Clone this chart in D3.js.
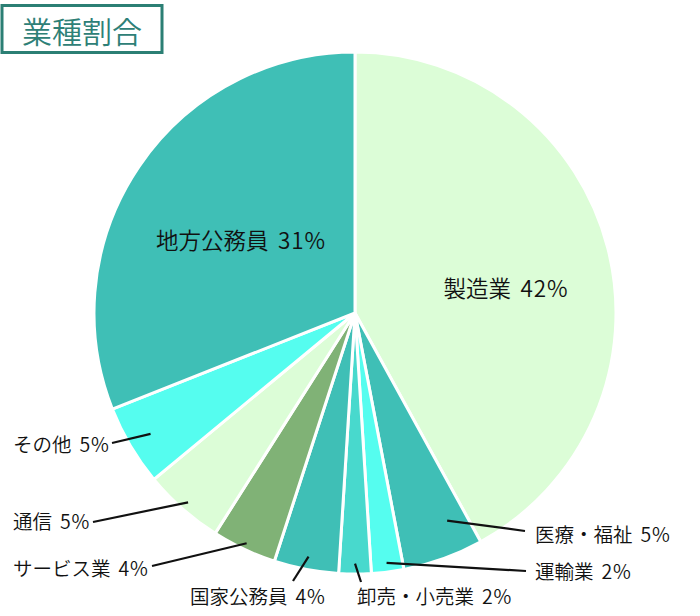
<!DOCTYPE html>
<html><head><meta charset="utf-8">
<script src="https://cdn.jsdelivr.net/npm/d3@7"></script>
<style>
body{margin:0;background:#fff;}
svg{display:block;font-family:"Noto Sans CJK JP","Noto Sans",sans-serif;}
</style></head>
<body>
<script>
const title = "業種割合";
const categories = ["製造業","医療・福祉","運輸業","卸売・小売業","国家公務員","サービス業","通信","その他","地方公務員"];
const values = [42,5,2,2,4,4,5,5,31];
const colors = ["#dcfdd7","#3fbfb6","#55fdef","#48d9cd","#3fbfb6","#80b276","#dcfdd7","#55fdef","#3fbfb6"];
// label layout: inside labels (center) or outside labels (start anchor) with leader lines
const labelPos = [
  {inside:true, x:506, y:287},
  {x:535, y:533, lx:525, ly:531, r:0.87, t:0.27},
  {x:535, y:570, lx:526, ly:571, r:0.965, t:0.5},
  {x:357, y:595, lx:361, ly:582, r:0.96, t:0.5},
  {x:190, y:595, lx:293, ly:581, r:0.95, t:0.5},
  {x:13, y:567, lx:152, ly:566, r:0.975, t:0.5},
  {x:13, y:520, lx:93, ly:522, r:0.967, t:0.5},
  {x:13, y:443, lx:112, ly:443, r:0.91, t:0.5},
  {inside:true, x:241, y:239}
];

const W=700,H=616,cx=355,cy=313,R=261;
const svg=d3.select("body").append("svg").attr("width",W).attr("height",H);

// title
svg.append("rect").attr("x",2).attr("y",5.5).attr("width",160).attr("height",47)
  .attr("fill","#fff").attr("stroke","#2b7f74").attr("stroke-width",3);
svg.append("text").attr("x",82).attr("y",30).attr("text-anchor","middle")
  .attr("dominant-baseline","central").attr("font-size",30).attr("font-weight",350)
  .attr("fill","#2e8077").text(title);

const pie=d3.pie().sort(null).value(d=>d)(values);
const arc=d3.arc().innerRadius(0).outerRadius(R);
const g=svg.append("g").attr("transform",`translate(${cx},${cy})`);
g.selectAll("path").data(pie).join("path")
  .attr("d",arc).attr("fill",(d,i)=>colors[i])
  .attr("stroke","#fff").attr("stroke-width",3).attr("stroke-linejoin","miter");

// leader lines
pie.forEach((d,i)=>{
  const p=labelPos[i];
  if(p.inside) return;
  const a=d.startAngle+(d.endAngle-d.startAngle)*p.t;
  const sx=cx+Math.sin(a)*R*p.r, sy=cy-Math.cos(a)*R*p.r;
  svg.append("line").attr("x1",sx).attr("y1",sy).attr("x2",p.lx).attr("y2",p.ly)
    .attr("stroke","#111").attr("stroke-width",2.2);
});

// labels
pie.forEach((d,i)=>{
  const p=labelPos[i];
  const fs=p.inside?22.5:19.5;
  const t=svg.append("text").attr("x",p.x).attr("y",p.y)
    .attr("text-anchor",p.inside?"middle":"start")
    .attr("dominant-baseline","central")
    .attr("font-size",fs).attr("font-weight",350).attr("fill","#111");
  t.append("tspan").text(categories[i]);
  t.append("tspan").attr("dx",fs*0.15).attr("letter-spacing",fs*0.04).text(" "+values[i]+"%");
});
</script>
</body></html>
